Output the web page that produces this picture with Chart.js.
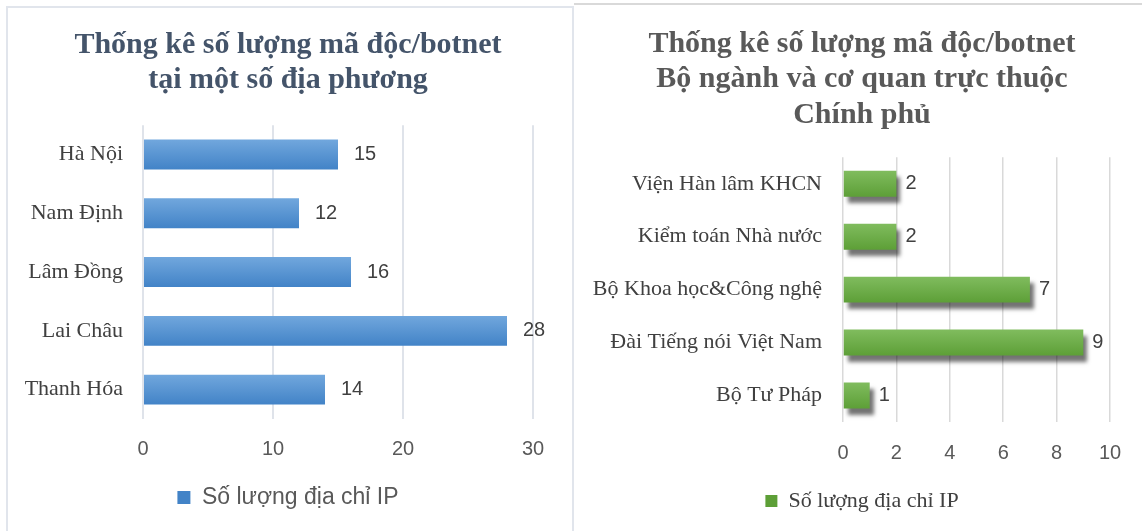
<!DOCTYPE html>
<html>
<head>
<meta charset="utf-8">
<script src="https://cdn.jsdelivr.net/npm/chart.js@4.4.1/dist/chart.umd.min.js"></script>
<style>
  body { margin: 0; background: #fff; width: 1142px; height: 531px; overflow: hidden; position: relative; }
  #leftFrame { position: absolute; left: 6px; top: 6px; width: 564px; height: 540px; border: 2px solid #e1e5ec; }
  #rightFrame { position: absolute; left: 574px; top: 3px; width: 600px; height: 540px; border-top: 2px solid #d9d9d9; }
  canvas { position: absolute; top: 0; }
  #provinceChart { left: 0; }
  #ministryChart { left: 572px; }
</style>
</head>
<body>
<div id="leftFrame"></div>
<div id="rightFrame"></div>
<canvas id="provinceChart" width="572" height="531"></canvas>
<canvas id="ministryChart" width="570" height="531"></canvas>
<script>
const seriesName = 'Số lượng địa chỉ IP';

const provinceLabels = ['Hà Nội', 'Nam Định', 'Lâm Đồng', 'Lai Châu', 'Thanh Hóa'];
const provinceValues = [15, 12, 16, 28, 14];
const provinceTicks = [0, 10, 20, 30];

const ministryLabels = ['Viện Hàn lâm KHCN', 'Kiểm toán Nhà nước', 'Bộ Khoa học&Công nghệ', 'Đài Tiếng nói Việt Nam', 'Bộ Tư Pháp'];
const ministryValues = [2, 2, 7, 9, 1];
const ministryTicks = [0, 2, 4, 6, 8, 10];

// vertical gradient inside each horizontal bar
function barGradient(top, bottom, pct) {
  return function (ctx) {
    const chart = ctx.chart;
    if (ctx.type !== 'data' || !chart.chartArea) return bottom;
    const y = chart.scales.y.getPixelForValue(ctx.dataIndex);
    const h = (chart.chartArea.bottom - chart.chartArea.top) / chart.data.labels.length * pct;
    const g = chart.ctx.createLinearGradient(0, y - h / 2, 0, y + h / 2);
    g.addColorStop(0, top);
    g.addColorStop(1, bottom);
    return g;
  };
}

const valueLabels = {
  id: 'valueLabels',
  afterDatasetsDraw(chart, args, opts) {
    const ctx = chart.ctx;
    ctx.save();
    ctx.font = opts.font;
    ctx.fillStyle = opts.color;
    ctx.textAlign = 'left';
    ctx.textBaseline = 'middle';
    chart.getDatasetMeta(0).data.forEach((bar, i) => {
      ctx.fillText(chart.data.datasets[0].data[i], bar.x + opts.offset, bar.y);
    });
    ctx.restore();
  }
};

const barShadow = {
  id: 'barShadow',
  beforeDatasetDraw(chart) {
    const ctx = chart.ctx;
    ctx.save();
    ctx.shadowColor = 'rgba(0, 0, 0, 0.55)';
    ctx.shadowBlur = 4;
    ctx.shadowOffsetX = 4;
    ctx.shadowOffsetY = 6;
  },
  afterDatasetDraw(chart) {
    chart.ctx.restore();
  }
};

function makeChart(id, o) {
  return new Chart(document.getElementById(id), {
    type: 'bar',
    data: {
      labels: o.labels,
      datasets: [{
        label: seriesName,
        data: o.values,
        backgroundColor: barGradient(o.colors[0], o.colors[1], o.barPct),
        borderWidth: 0,
        categoryPercentage: 1,
        barPercentage: o.barPct
      }]
    },
    options: {
      indexAxis: 'y',
      responsive: false,
      animation: false,
      devicePixelRatio: 1,
      layout: { padding: o.padding },
      scales: {
        x: {
          min: 0,
          max: o.ticks[o.ticks.length - 1],
          afterBuildTicks: s => { s.ticks = o.ticks.map(v => ({ value: v })); },
          afterFit: s => { s.height = o.xHeight; },
          border: { display: false },
          grid: { color: o.gridColor, lineWidth: o.gridWidth, drawTicks: false },
          ticks: { padding: o.tickPad, color: '#595959', font: { family: 'Liberation Sans', size: 20 } }
        },
        y: {
          afterFit: s => { s.width = o.yWidth; },
          border: { display: false },
          grid: { display: false, drawTicks: false },
          ticks: { padding: o.labelPad, color: '#404040', font: { family: 'Liberation Serif', size: 22 } }
        },
        // empty right axis, only keeps space right of the plot
        yGap: {
          type: 'category',
          axis: 'y',
          position: 'right',
          afterFit: s => { s.width = o.rightGap; },
          border: { display: false },
          grid: { display: false, drawTicks: false },
          ticks: { display: false }
        }
      },
      plugins: {
        title: {
          display: true,
          text: o.title,
          color: o.titleColor,
          font: { family: 'Liberation Serif', size: 30, weight: 'bold', lineHeight: o.titleLine },
          padding: o.titlePad
        },
        legend: {
          position: 'bottom',
          labels: {
            boxWidth: o.legendBox,
            boxHeight: o.legendBox,
            padding: 10,
            color: o.legendColor,
            font: o.legendFont
          }
        },
        tooltip: { enabled: false },
        valueLabels: { font: '20px "Liberation Sans"', color: '#404040', offset: o.valueOffset }
      }
    },
    plugins: o.plugins
  });
}

makeChart('provinceChart', {
  labels: provinceLabels,
  values: provinceValues,
  ticks: provinceTicks,
  colors: ['#71a7dd', '#4283c7'],
  barPct: 0.51,
  padding: { left: 4, right: 0, top: 0, bottom: 12 },
  xHeight: 57,
  yWidth: 139,
  rightGap: 39,
  tickPad: 18,
  labelPad: 20,
  gridColor: '#dfe3ea',
  gridWidth: 2,
  title: ['Thống kê số lượng mã độc/botnet', 'tại một số địa phương'],
  titleColor: '#44546a',
  titleLine: 1.17,
  titlePad: { top: 28, bottom: 27 },
  legendBox: 13,
  legendColor: '#595959',
  legendFont: { family: 'Liberation Sans', size: 23 },
  valueOffset: 16,
  plugins: [valueLabels]
});

makeChart('ministryChart', {
  labels: ministryLabels,
  values: ministryValues,
  ticks: ministryTicks,
  colors: ['#80bc5e', '#5d9f37'],
  barPct: 0.49,
  padding: { left: 10, right: 0, top: 0, bottom: 9 },
  xHeight: 58,
  yWidth: 261,
  rightGap: 32,
  tickPad: 19,
  labelPad: 21,
  gridColor: '#d9d9d9',
  gridWidth: 1.5,
  title: ['Thống kê số lượng mã độc/botnet', 'Bộ ngành và cơ quan trực thuộc', 'Chính phủ'],
  titleColor: '#595959',
  titleLine: 1.17,
  titlePad: { top: 27, bottom: 25 },
  legendBox: 12,
  legendColor: '#404040',
  legendFont: { family: 'Liberation Serif', size: 22 },
  valueOffset: 9,
  plugins: [barShadow, valueLabels]
});
</script>
</body>
</html>
